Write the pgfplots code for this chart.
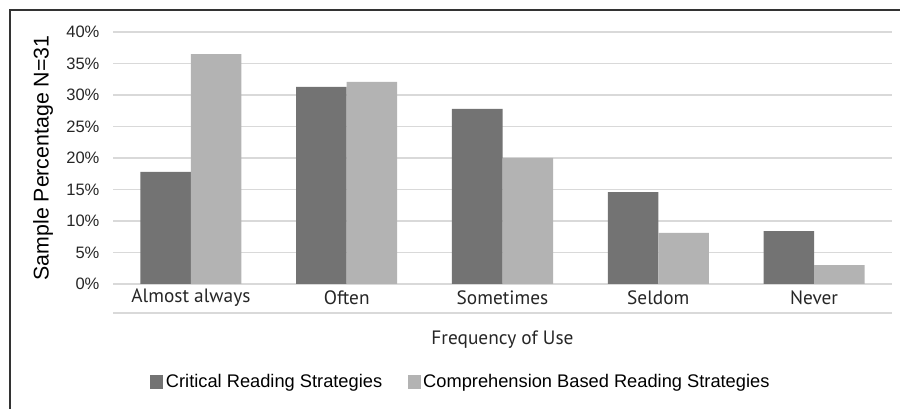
\documentclass[border=0pt]{standalone}
\usepackage{fontspec}
\setmainfont{Liberation Sans}
\newfontfamily\myr{PT Sans}
\usepackage{pgfplots}
\pgfplotsset{compat=1.18}

\definecolor{darkbar}{HTML}{737373}
\definecolor{lightbar}{HTML}{B3B3B3}
\definecolor{gridc}{HTML}{D9D9D9}
\definecolor{framec}{HTML}{333333}

% 1 px of the reference = 0.75pt
\begin{document}
\begin{tikzpicture}
\useasboundingbox (0pt,0pt) rectangle (675pt,306.75pt);
% outer frame (left and top only)
\draw[framec, line width=1.1pt] (7.5pt,0pt) -- (7.5pt,299.25pt) -- (675pt,299.25pt);
% line under the category labels
\draw[gridc, line width=1.2pt] (84.75pt,72pt) -- (669pt,72pt);

\begin{axis}[
    at={(84.75pt,93.75pt)}, anchor=south west,
    scale only axis,
    width=584.25pt, height=189pt,
    ybar=0pt, bar width=37.9pt,
    xmin=-0.5, xmax=4.5,
    ymin=0, ymax=40,
    xtick={0,1,2,3,4},
    xticklabels={Almost always, Often, Sometimes, Seldom, Never},
    ytick={0,5,10,15,20,25,30,35,40},
    yticklabels={0\%,5\%,10\%,15\%,20\%,25\%,30\%,35\%,40\%},
    major tick length=0pt,
    axis line style={draw=none},
    ymajorgrids, major grid style={gridc, line width=1.2pt},
    yticklabel style={font=\fontsize{12.4}{14}\selectfont, anchor=east, inner sep=0pt, xshift=-10pt, text=black!85},
    xticklabel style={font=\myr\fontsize{14.5}{16}\selectfont, anchor=center, inner sep=0pt, yshift=-10.5pt, text=black!85},
    ylabel={Sample Percentage N=31},
    ylabel style={font=\fontsize{16}{18}\selectfont, at={(axis description cs:0,0.5)}, anchor=center, yshift=52.5pt},
    xlabel={Frequency of Use},
    xlabel style={font=\myr\fontsize{14.5}{16}\selectfont, at={(axis description cs:0.5,0)}, anchor=center, yshift=-42pt, text=black!85},
    legend style={draw=none, at={(axis description cs:0.447,-0.389)}, anchor=center,
        font=\fontsize{13.7}{16}\selectfont, legend columns=2,
        /tikz/every even column/.append style={column sep=17pt}},
    legend image code/.code={\fill[#1] (0pt,-4.9pt) rectangle (9.75pt,4.9pt);},
    clip=false
]
\addplot[fill=darkbar, draw=none] coordinates {(0,17.8) (1,31.3) (2,27.8) (3,14.6) (4,8.4)};
\addlegendentry{Critical Reading Strategies}
\addplot[fill=lightbar, draw=none] coordinates {(0,36.5) (1,32.1) (2,20.0) (3,8.1) (4,3.0)};
\addlegendentry{Comprehension Based Reading Strategies}
\end{axis}
\end{tikzpicture}
\end{document}
